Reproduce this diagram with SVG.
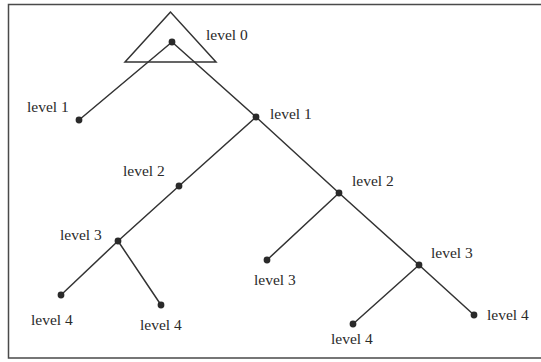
<svg xmlns="http://www.w3.org/2000/svg" width="541" height="362" viewBox="0 0 541 362">
  <style>
    .frame { fill: none; stroke: #4a4a4a; stroke-width: 1.5; }
    .edge { stroke: #333; stroke-width: 1.5; stroke-linecap: round; fill: none; }
    .tri { fill: none; stroke: #333; stroke-width: 1.5; stroke-linejoin: miter; }
    .dot { fill: #2a2a2a; }
    .lbl { font-family: "Liberation Serif", "Times New Roman", serif; font-size: 15.5px; fill: #2a2a2a; }
  </style>
  <rect width="541" height="362" fill="#ffffff"/>

  <!-- frame (right side runs off the page) -->
  <path class="frame" d="M541,4.5 H8.5 V358 H541"/>

  <!-- connectors -->
  <g id="edges">
    <line class="edge" x1="172" y1="42" x2="79" y2="120"/>
    <line class="edge" x1="172" y1="42" x2="256" y2="117"/>
    <line class="edge" x1="256" y1="117" x2="179" y2="186"/>
    <line class="edge" x1="179" y1="186" x2="118" y2="241"/>
    <line class="edge" x1="118" y1="241" x2="61" y2="295"/>
    <line class="edge" x1="118" y1="241" x2="161" y2="305"/>
    <line class="edge" x1="256" y1="117" x2="339" y2="193"/>
    <line class="edge" x1="339" y1="193" x2="267" y2="260"/>
    <line class="edge" x1="339" y1="193" x2="419" y2="265"/>
    <line class="edge" x1="419" y1="265" x2="353" y2="324"/>
    <line class="edge" x1="419" y1="265" x2="474" y2="315"/>
  </g>

  <!-- nodes -->
  <g id="root">
    <polygon class="tri" points="170.5,12 125,62 216,62"/>
    <circle class="dot" cx="172" cy="42" r="3.4"/>
    <text class="lbl" x="206" y="40">level 0</text>
  </g>
  <g id="n1a">
    <circle class="dot" cx="79" cy="120" r="3.4"/>
    <text class="lbl" x="27" y="112">level 1</text>
  </g>
  <g id="n1b">
    <circle class="dot" cx="256" cy="117" r="3.4"/>
    <text class="lbl" x="270" y="119">level 1</text>
  </g>
  <g id="n2a">
    <circle class="dot" cx="179" cy="186" r="3.4"/>
    <text class="lbl" x="123" y="176">level 2</text>
  </g>
  <g id="n2b">
    <circle class="dot" cx="339" cy="193" r="3.4"/>
    <text class="lbl" x="352" y="186">level 2</text>
  </g>
  <g id="n3a">
    <circle class="dot" cx="118" cy="241" r="3.4"/>
    <text class="lbl" x="60" y="240">level 3</text>
  </g>
  <g id="n3b">
    <circle class="dot" cx="267" cy="260" r="3.4"/>
    <text class="lbl" x="254" y="285">level 3</text>
  </g>
  <g id="n3c">
    <circle class="dot" cx="419" cy="265" r="3.4"/>
    <text class="lbl" x="431" y="258">level 3</text>
  </g>
  <g id="n4a">
    <circle class="dot" cx="61" cy="295" r="3.4"/>
    <text class="lbl" x="31" y="325">level 4</text>
  </g>
  <g id="n4b">
    <circle class="dot" cx="161" cy="305" r="3.4"/>
    <text class="lbl" x="140" y="330">level 4</text>
  </g>
  <g id="n4c">
    <circle class="dot" cx="353" cy="324" r="3.4"/>
    <text class="lbl" x="331" y="344">level 4</text>
  </g>
  <g id="n4d">
    <circle class="dot" cx="474" cy="315" r="3.4"/>
    <text class="lbl" x="487" y="320">level 4</text>
  </g>
</svg>
